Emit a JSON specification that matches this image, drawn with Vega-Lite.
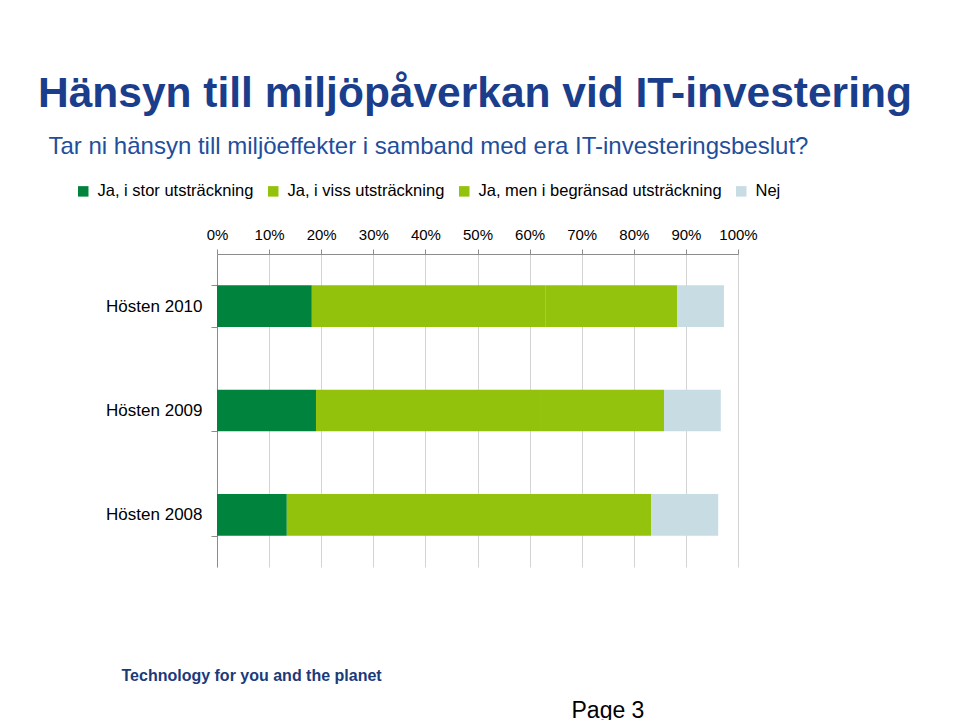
{
  "$schema": "https://vega.github.io/schema/vega-lite/v6.json",
  "autosize": "none",
  "width": 521,
  "height": 313,
  "padding": {"left": 217, "top": 254, "right": 222, "bottom": 153},
  "background": "white",
  "config": {
    "font": "Liberation Sans",
    "view": {"stroke": null}
  },
  "title": {
    "text": "Hänsyn till miljöpåverkan vid IT-investering",
    "anchor": "start",
    "frame": "group",
    "dx": -179,
    "fontSize": 42.5,
    "fontWeight": "bold",
    "color": "#1a3e8c",
    "offset": 19
  },
  "data": {
    "values": [
      {"period": "Hösten 2010", "svar": "Ja, i stor utsträckning", "k": 1, "andel": 18.2},
      {"period": "Hösten 2010", "svar": "Ja, i viss utsträckning", "k": 2, "andel": 44.8},
      {"period": "Hösten 2010", "svar": "Ja, men i begränsad utsträckning", "k": 3, "andel": 25.3},
      {"period": "Hösten 2010", "svar": "Nej", "k": 4, "andel": 9.0},
      {"period": "Hösten 2009", "svar": "Ja, i stor utsträckning", "k": 1, "andel": 19.0},
      {"period": "Hösten 2009", "svar": "Ja, i viss utsträckning", "k": 2, "andel": 43.0},
      {"period": "Hösten 2009", "svar": "Ja, men i begränsad utsträckning", "k": 3, "andel": 23.8},
      {"period": "Hösten 2009", "svar": "Nej", "k": 4, "andel": 10.9},
      {"period": "Hösten 2008", "svar": "Ja, i stor utsträckning", "k": 1, "andel": 13.4},
      {"period": "Hösten 2008", "svar": "Ja, i viss utsträckning", "k": 2, "andel": 39.0},
      {"period": "Hösten 2008", "svar": "Ja, men i begränsad utsträckning", "k": 3, "andel": 30.9},
      {"period": "Hösten 2008", "svar": "Nej", "k": 4, "andel": 12.9}
    ]
  },
  "layer": [
    {
      "mark": {"type": "bar"},
      "encoding": {
        "y": {
          "field": "period",
          "type": "nominal",
          "sort": ["Hösten 2010", "Hösten 2009", "Hösten 2008"],
          "scale": {"paddingInner": 0.6, "paddingOuter": 0.3},
          "axis": {
            "orient": "left",
            "title": null,
            "labelFontSize": 17,
            "labelColor": "#000000",
            "labelPadding": 9,
            "tickBand": "extent",
            "tickSize": 6,
            "tickColor": "#8c8c8c",
            "domainColor": "#8c8c8c",
            "grid": false
          }
        },
        "x": {
          "field": "andel",
          "type": "quantitative",
          "stack": "zero",
          "scale": {"domain": [0, 100], "nice": false},
          "axis": {
            "orient": "top",
            "values": [0, 10, 20, 30, 40, 50, 60, 70, 80, 90, 100],
            "labelExpr": "datum.value + '%'",
            "labelFontSize": 15,
            "labelColor": "#000000",
            "labelPadding": 7,
            "labelFlush": false,
            "tickSize": 5,
            "tickColor": "#8c8c8c",
            "domainColor": "#8c8c8c",
            "grid": true,
            "gridColor": "#d4d4d4",
            "title": "Tar ni hänsyn till miljöeffekter i samband med era IT-investeringsbeslut?",
            "titleFontSize": 24,
            "titleFontWeight": "normal",
            "titleColor": "#1f4e9c",
            "titleAnchor": null,
            "titleAlign": "left",
            "titleBaseline": "middle",
            "titleX": -169,
            "titleY": -108
          }
        },
        "color": {
          "field": "svar",
          "type": "nominal",
          "scale": {
            "domain": ["Ja, i stor utsträckning", "Ja, i viss utsträckning", "Ja, men i begränsad utsträckning", "Nej"],
            "range": ["#00843D", "#92C20C", "#93C30D", "#C8DCE4"]
          },
          "legend": {
            "title": null,
            "orient": "none",
            "direction": "horizontal",
            "columns": 4,
            "legendX": -142,
            "legendY": -71,
            "symbolType": "square",
            "symbolSize": 110,
            "symbolStrokeWidth": 0,
            "symbolOpacity": 1,
            "labelFontSize": 16.5,
            "labelColor": "#000000",
            "labelOffset": 6,
            "columnPadding": 11,
            "labelLimit": 400
          }
        },
        "order": {"field": "k", "type": "quantitative"}
      }
    },
    {
      "mark": {"type": "bar", "opacity": 0},
      "encoding": {
        "y": {
          "field": "period",
          "type": "nominal",
          "sort": ["Hösten 2010", "Hösten 2009", "Hösten 2008"],
          "axis": {
            "orient": "right",
            "domain": false,
            "ticks": false,
            "labels": false,
            "grid": false,
            "title": "Page 3",
            "titleAngle": 0,
            "titleFontSize": 23,
            "titleFontWeight": "normal",
            "titleColor": "#000000",
            "titleAlign": "left",
            "titleAnchor": null,
            "titleBaseline": "alphabetic",
            "titleX": -167,
            "titleY": 463
          }
        },
        "x": {
          "field": "andel",
          "type": "quantitative",
          "stack": "zero",
          "axis": {
            "orient": "bottom",
            "domain": false,
            "ticks": false,
            "labels": false,
            "grid": false,
            "title": "Technology for you and the planet",
            "titleFontSize": 16,
            "titleFontWeight": "bold",
            "titleColor": "#1b3a7a",
            "titleAnchor": null,
            "titleAlign": "left",
            "titleBaseline": "middle",
            "titleX": -96,
            "titleY": 108
          }
        }
      }
    }
  ],
  "resolve": {"axis": {"x": "independent", "y": "independent"}}
}
